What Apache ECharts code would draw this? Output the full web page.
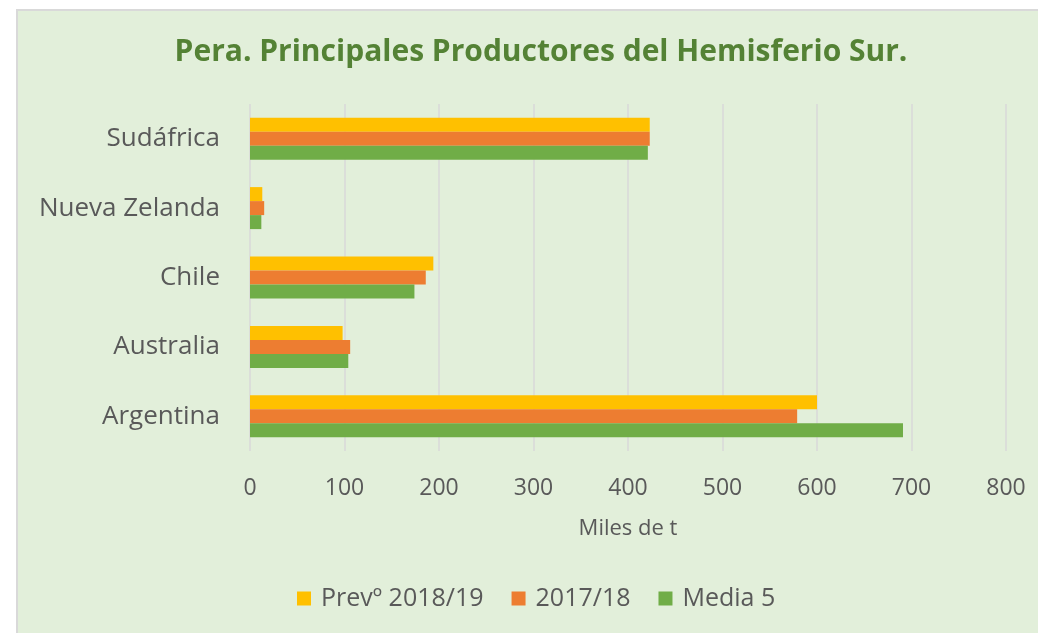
<!DOCTYPE html>
<html>
<head>
<meta charset="utf-8">
<script src="https://cdn.jsdelivr.net/npm/echarts@6/dist/echarts.min.js"></script>
<style>
  html, body { margin: 0; padding: 0; background: #fff; }
  #panel { position: absolute; left: 16px; top: 9px; right: 0; bottom: 0;
           background: #E2EFDA; border-left: 2px solid #D9D9D9; border-top: 2px solid #D9D9D9; }
  #main { position: absolute; left: 0; top: 0; width: 1038px; height: 633px; }
</style>
</head>
<body>
<div id="panel"></div>
<div id="main"></div>
<script>
// categories, bottom to top
const countries = ['Argentina', 'Australia', 'Chile', 'Nueva Zelanda', 'Sudáfrica']
const prev1819 = [600, 98, 194, 13, 423]
const c1718 = [579, 106, 186, 15, 423]
const media5 = [691, 104, 174, 12, 421]
const xTicks = { min: 0, max: 800, interval: 100 }

const chart = echarts.init(document.getElementById('main'))

const barStyle = color => ({
  type: 'bar',
  barWidth: 14,
  barGap: '0%',
  itemStyle: { color: color }
})

chart.setOption({
  backgroundColor: 'transparent',
  animation: false,
  title: {
    text: 'Pera. Principales Productores del Hemisferio Sur.',
    left: 536,
    textAlign: 'center',
    top: 32,
    textStyle: {
      fontFamily: 'Open Sans',
      fontSize: 30,
      fontWeight: 'bold',
      color: '#548235'
    }
  },
  legend: {
    bottom: 17,
    left: 292,
    itemWidth: 14,
    itemHeight: 14,
    itemGap: 28,
    icon: 'rect',
    textStyle: { fontFamily: 'Open Sans', fontSize: 25, color: '#595959', padding: [0, 0, 0, 5] },
    data: ['Prevº 2018/19', '2017/18', 'Media 5']
  },
  grid: { left: 250, right: 32, top: 104, bottom: 182 },
  xAxis: {
    type: 'value',
    min: xTicks.min,
    max: xTicks.max,
    interval: xTicks.interval,
    name: 'Miles de t',
    nameLocation: 'middle',
    nameGap: 67,
    nameTextStyle: { fontFamily: 'Open Sans', fontSize: 22, color: '#595959' },
    axisLine: { show: false },
    axisTick: { show: false },
    axisLabel: { fontFamily: 'Open Sans', fontSize: 23, color: '#595959', margin: 26 },
    splitLine: { lineStyle: { color: '#D9D9D9', width: 1.5 } }
  },
  yAxis: {
    type: 'category',
    data: countries,
    axisLine: { show: false },
    axisTick: { show: false },
    axisLabel: { fontFamily: 'Open Sans', fontSize: 26, color: '#595959', margin: 30 }
  },
  series: [
    Object.assign({ name: 'Prevº 2018/19', data: prev1819 }, barStyle('#FFC000')),
    Object.assign({ name: '2017/18', data: c1718 }, barStyle('#ED7D31')),
    Object.assign({ name: 'Media 5', data: media5 }, barStyle('#70AD47'))
  ]
})
</script>
</body>
</html>
